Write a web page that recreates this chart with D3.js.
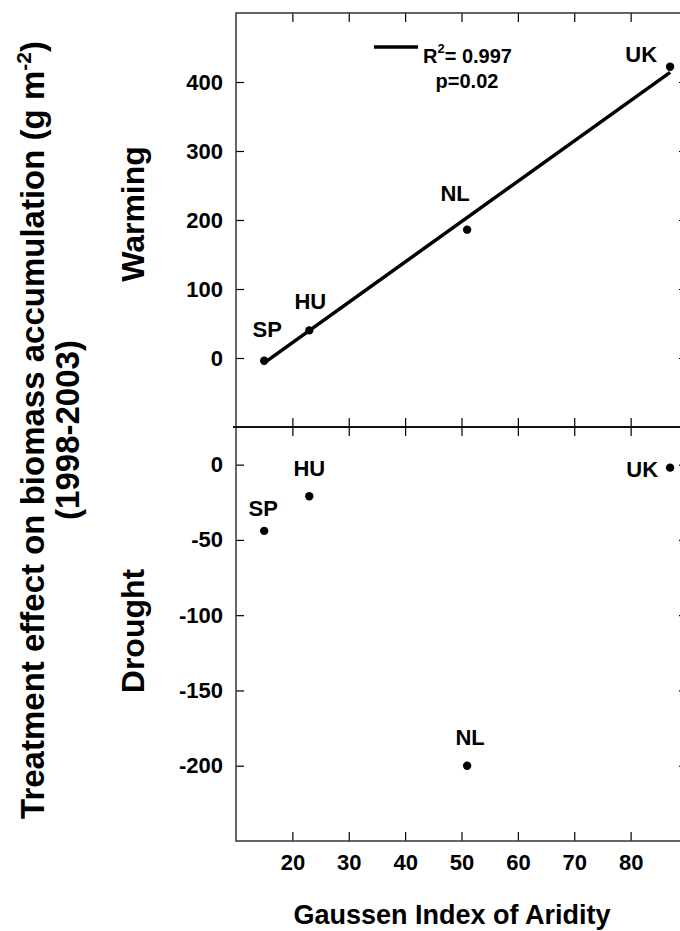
<!DOCTYPE html>
<html>
<head>
<meta charset="utf-8">
<script src="https://cdn.jsdelivr.net/npm/d3@7"></script>
<style>
  html, body { margin: 0; padding: 0; background: #fff; }
  svg { display: block; }
  text { font-family: "Liberation Sans", Arial, Helvetica, sans-serif; font-weight: bold; fill: #000; }
</style>
</head>
<body>
<svg id="chart" width="680" height="931"></svg>
<script>
// ---- data ----
const sites = ["SP", "HU", "NL", "UK"];
const gaussenIndex = [15, 23, 51, 87];
const warmingEffect = [-4, 40, 186, 422];
const droughtEffect = [-44, -21, -200, -2];
const fitX = [15, 87];
const fitY = [-7, 414];
const xTicks = [20, 30, 40, 50, 60, 70, 80];
const warmingTicks = [0, 100, 200, 300, 400];
const droughtTicks = [0, -50, -100, -150, -200];
const xDomain = [10, 90];
const warmingDomain = [-100, 500];
const droughtDomain = [-250, 25];
const fitText = ["R", "2", "= 0.997", "p=0.02"];

// ---- layout ----
const svg = d3.select("#chart");
const L = 236, R = 687;
const topY0 = 13, topY1 = 427, botY0 = 427, botY1 = 841;

const x = d3.scaleLinear().domain(xDomain).range([L, R]);
const yW = d3.scaleLinear().domain(warmingDomain).range([topY1, topY0]);
const yD = d3.scaleLinear().domain(droughtDomain).range([botY1, botY0]);
const fmt = d => String(d);

function styleAxis(g, labels) {
  g.select(".domain").remove();
  g.selectAll(".tick line").attr("stroke", "#000").attr("stroke-width", 1.2);
  g.selectAll(".tick text").style("font-size", "22px").style("font-weight", "bold")
    .style("font-family", '"Liberation Sans", Arial, sans-serif').attr("fill", "#000");
  if (!labels) g.selectAll(".tick text").remove();
}

// top panel x ticks (top edge and bottom edge, inward)
svg.append("g").attr("transform", `translate(0,${topY0})`)
  .call(d3.axisTop(x).tickValues(xTicks).tickSizeInner(-9).tickSizeOuter(0).tickFormat(""))
  .call(g => styleAxis(g, false));
svg.append("g").attr("transform", `translate(0,${topY1})`)
  .call(d3.axisBottom(x).tickValues(xTicks).tickSizeInner(-9).tickSizeOuter(0).tickFormat(""))
  .call(g => styleAxis(g, false));
// bottom panel x ticks
svg.append("g").attr("transform", `translate(0,${botY0})`)
  .call(d3.axisTop(x).tickValues(xTicks).tickSizeInner(-9).tickSizeOuter(0).tickFormat(""))
  .call(g => styleAxis(g, false));
svg.append("g").attr("transform", `translate(0,${botY1})`)
  .call(d3.axisBottom(x).tickValues(xTicks).tickSizeInner(-9).tickSizeOuter(0).tickPadding(13).tickFormat(fmt))
  .call(g => styleAxis(g, true));

// y axes
svg.append("g").attr("transform", `translate(${L},0)`)
  .call(d3.axisLeft(yW).tickValues(warmingTicks).tickSizeInner(-8).tickSizeOuter(0).tickPadding(13).tickFormat(fmt))
  .call(g => styleAxis(g, true));
svg.append("g").attr("transform", `translate(${L},0)`)
  .call(d3.axisLeft(yD).tickValues(droughtTicks).tickSizeInner(-8).tickSizeOuter(0).tickPadding(13).tickFormat(fmt))
  .call(g => styleAxis(g, true));
svg.append("g").attr("transform", `translate(${R},0)`)
  .call(d3.axisRight(yW).tickValues(warmingTicks).tickSizeInner(-8).tickSizeOuter(0).tickFormat(""))
  .call(g => styleAxis(g, false));
svg.append("g").attr("transform", `translate(${R},0)`)
  .call(d3.axisRight(yD).tickValues(droughtTicks).tickSizeInner(-8).tickSizeOuter(0).tickFormat(""))
  .call(g => styleAxis(g, false));

// frames
svg.append("rect").attr("x", L).attr("y", topY0).attr("width", R - L).attr("height", topY1 - topY0)
  .attr("fill", "none").attr("stroke", "#333").attr("stroke-width", 1.5);
svg.append("rect").attr("x", L).attr("y", botY0).attr("width", R - L).attr("height", botY1 - botY0)
  .attr("fill", "none").attr("stroke", "#333").attr("stroke-width", 1.5);
svg.append("line").attr("x1", L - 3).attr("x2", R).attr("y1", topY1).attr("y2", topY1)
  .attr("stroke", "#111").attr("stroke-width", 2);

// regression line
const fitData = fitX.map((v, i) => [v, fitY[i]]);
svg.append("path").datum(fitData)
  .attr("d", d3.line().x(d => x(d[0])).y(d => yW(d[1])))
  .attr("stroke", "#000").attr("stroke-width", 3.5).attr("fill", "none");

// points
const warmPts = sites.map((s, i) => ({ s, x: gaussenIndex[i], y: warmingEffect[i] }));
const dryPts = sites.map((s, i) => ({ s, x: gaussenIndex[i], y: droughtEffect[i] }));

svg.append("g").selectAll("circle").data(warmPts).join("circle")
  .attr("cx", d => x(d.x)).attr("cy", d => yW(d.y)).attr("r", 4.2).attr("fill", "#000");
svg.append("g").selectAll("circle").data(dryPts).join("circle")
  .attr("cx", d => x(d.x)).attr("cy", d => yD(d.y)).attr("r", 4.2).attr("fill", "#000");

// label placement (style only)
const warmLabelPos = { SP: [3, -24, "middle"], HU: [1, -21, "middle"], NL: [-12, -29, "middle"], UK: [-13, -5, "end"] };
const dryLabelPos = { SP: [-1, -15, "middle"], HU: [0, -20, "middle"], NL: [3, -21, "middle"], UK: [-12, 9, "end"] };

svg.append("g").selectAll("text").data(warmPts).join("text")
  .attr("x", d => x(d.x) + warmLabelPos[d.s][0]).attr("y", d => yW(d.y) + warmLabelPos[d.s][1])
  .attr("text-anchor", d => warmLabelPos[d.s][2]).style("font-size", "22px").text(d => d.s);
svg.append("g").selectAll("text").data(dryPts).join("text")
  .attr("x", d => x(d.x) + dryLabelPos[d.s][0]).attr("y", d => yD(d.y) + dryLabelPos[d.s][1])
  .attr("text-anchor", d => dryLabelPos[d.s][2]).style("font-size", "22px").text(d => d.s);

// legend
svg.append("line").attr("x1", 374).attr("x2", 418).attr("y1", 47).attr("y2", 47)
  .attr("stroke", "#000").attr("stroke-width", 3.5);
const lt = svg.append("text").attr("x", 423).attr("y", 63).style("font-size", "20px");
lt.append("tspan").text(fitText[0]);
lt.append("tspan").attr("dy", -10).style("font-size", "13px").text(fitText[1]);
lt.append("tspan").attr("dy", 10).text(fitText[2]);
svg.append("text").attr("x", 467).attr("y", 88).attr("text-anchor", "middle")
  .style("font-size", "20px").text(fitText[3]);

// panel labels
svg.append("text").attr("transform", "translate(144,214) rotate(-90)").attr("text-anchor", "middle")
  .style("font-size", "32px").text("Warming");
svg.append("text").attr("transform", "translate(144,631) rotate(-90)").attr("text-anchor", "middle")
  .style("font-size", "32px").text("Drought");

// y title
const yt = svg.append("text").attr("transform", "translate(44,430) rotate(-90)").attr("text-anchor", "middle")
  .style("font-size", "33px");
yt.append("tspan").text("Treatment effect on biomass accumulation (g m");
yt.append("tspan").attr("dy", -13).style("font-size", "21px").text("-2");
yt.append("tspan").attr("dy", 13).text(")");
svg.append("text").attr("transform", "translate(79,430) rotate(-90)").attr("text-anchor", "middle")
  .style("font-size", "33px").text("(1998-2003)");

// x title
svg.append("text").attr("x", 452).attr("y", 924).attr("text-anchor", "middle")
  .style("font-size", "27px").text("Gaussen Index of Aridity");
</script>
</body>
</html>
